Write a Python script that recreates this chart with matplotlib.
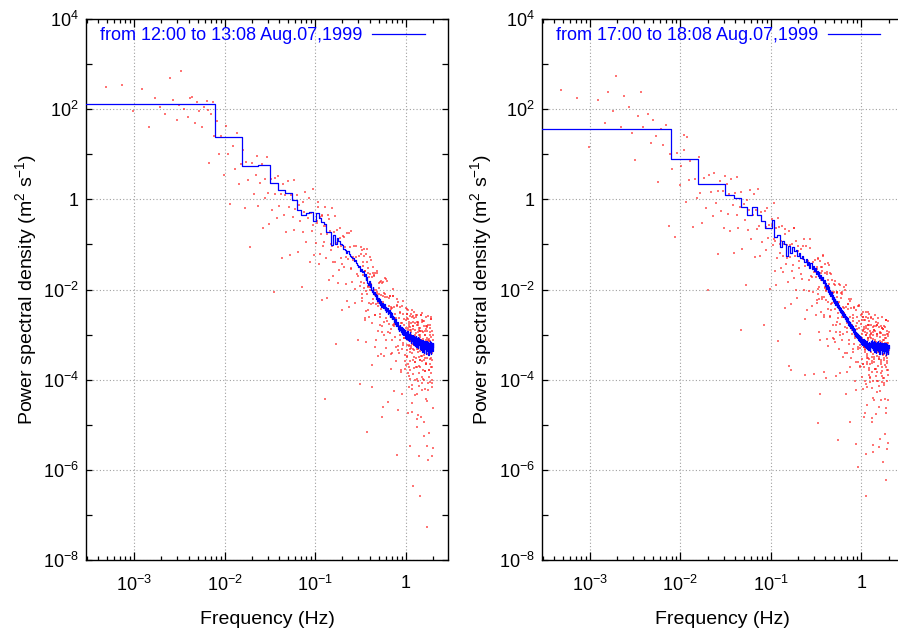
import numpy as np
import matplotlib
matplotlib.use("Agg")
import matplotlib.pyplot as plt
from matplotlib.ticker import FixedLocator, NullFormatter

plt.rcParams['font.family'] = 'Liberation Sans'
plt.rcParams['mathtext.fontset'] = 'custom'
plt.rcParams['mathtext.rm'] = 'Liberation Sans'
plt.rcParams['mathtext.it'] = 'Liberation Sans:italic'
plt.rcParams['mathtext.default'] = 'rm'

# ---- data -----------------------------------------------------------------
labels = ['from 12:00 to 13:08 Aug.07,1999', 'from 17:00 to 18:08 Aug.07,1999']

# blue line: averaged spectrum, one value (log10 m^2 s^-1) per 1/128 Hz bin
bin_width = 1 / 128.0
left_line_lp = [
    2.11, 1.38, 0.74, 0.76, 0.36, 0.21, 0.14, -0.01, -0.24, -0.35, -0.30, -0.27, -0.48, -0.31, -0.42, -0.50,
    -0.55, -0.72, -0.72, -1.02, -0.80, -1.00, -0.85,
    -0.92, -1.00, -1.02, -1.10, -1.12, -1.18, -1.15, -1.22,
    -1.25, -1.28, -1.30, -1.36, -1.34, -1.42, -1.45, -1.50, -1.48, -1.58,
    -1.55, -1.62, -1.58, -1.70, -1.65, -1.80, -1.72, -1.85, -1.90, -1.82,
    -1.95, -1.88, -2.00, -2.05, -1.95, -2.10, -2.05, -2.15, -2.10, -2.20,
    -2.12, -2.25, -2.18, -2.30, -2.22, -2.35, -2.28, -2.25, -2.38, -2.30,
    -2.42, -2.35, -2.40, -2.32, -2.45, -2.38, -2.50, -2.42, -2.48, -2.40,
    -2.55, -2.47, -2.52, -2.45, -2.60, -2.50, -2.56, -2.62, -2.53, -2.65,
    -2.58, -2.66, -2.60, -2.72, -2.62, -2.70, -2.76, -2.66, -2.80, -2.70,
    -2.75, -2.82, -2.72, -2.85, -2.78, -2.88, -2.80, -2.92, -2.84, -2.78,
    -2.90, -2.86, -2.95, -2.84, -2.98, -2.90, -2.85, -3.00, -2.92, -2.96,
    -2.88, -3.02, -2.94, -3.05, -2.90, -2.98, -3.08, -2.95, -3.00, -3.10,
    -2.96, -3.04, -2.92, -3.08, -3.00, -3.12, -2.98, -3.05, -3.15, -3.02,
    -3.06, -2.95, -3.10, -3.04, -3.18, -3.00, -3.08, -3.14, -3.02, -3.12,
    -3.05, -3.20, -3.08, -3.00, -3.16, -3.10, -3.04, -3.22, -3.12, -3.06,
    -3.14, -3.08, -3.25, -3.10, -3.04, -3.18, -3.12, -3.28, -3.15, -3.08,
    -3.20, -3.12, -3.06, -3.22, -3.16, -3.30, -3.12, -3.18, -3.08, -3.24,
    -3.15, -3.32, -3.18, -3.10, -3.26, -3.14, -3.20, -3.35, -3.16, -3.22,
    -3.12, -3.28, -3.18, -3.24, -3.14, -3.38, -3.20, -3.16, -3.26, -3.12,
    -3.22, -3.30, -3.15, -3.25, -3.40, -3.18, -3.24, -3.14, -3.28, -3.20,
    -3.32, -3.16, -3.22, -3.44, -3.20, -3.26, -3.15, -3.30, -3.22, -3.18,
    -3.28, -3.36, -3.20, -3.24, -3.16, -3.32, -3.25, -3.46, -3.22, -3.18,
    -3.26, -3.20, -3.34, -3.24, -3.15, -3.28, -3.38, -3.22, -3.18, -3.30,
    -3.24, -3.42, -3.20, -3.16, -3.28, -3.22, -3.34, -3.18, -3.26, -3.30,
    -3.20, -3.36, -3.24, -3.18, -3.28,
]
right_line_lp = [
    1.55, 0.90, 0.335, 0.33, 0.10, 0.03, -0.18, -0.35, -0.18, -0.35, -0.47, -0.63, -0.63, -0.46, -0.84, -0.80,
    -1.05, -0.92, -0.98, -1.25, -1.04, -1.20, -1.06, -1.15, -1.12, -1.26, -1.20, -1.30, -1.25, -1.32, -1.38,
    -1.32, -1.45, -1.38, -1.52, -1.42, -1.55, -1.48, -1.60, -1.52, -1.65,
    -1.58, -1.70, -1.62, -1.75, -1.68, -1.80, -1.72, -1.85, -1.78, -1.92,
    -1.85, -1.98, -1.90, -2.05, -1.95, -2.10, -2.02, -2.15, -2.06, -2.20,
    -2.12, -2.25, -2.16, -2.30, -2.22, -2.34, -2.26, -2.38, -2.30, -2.42,
    -2.35, -2.45, -2.38, -2.50, -2.40, -2.52, -2.45, -2.56, -2.48, -2.60,
    -2.52, -2.62, -2.55, -2.66, -2.58, -2.70, -2.60, -2.72, -2.64, -2.76,
    -2.66, -2.78, -2.70, -2.82, -2.72, -2.86, -2.76, -2.84, -2.78, -2.90,
    -2.80, -2.92, -2.84, -2.95, -2.86, -2.98, -2.88, -3.00, -2.92, -3.04,
    -2.94, -3.05, -2.96, -3.08, -2.98, -3.10, -3.00, -3.12, -3.02, -3.06,
    -3.14, -3.04, -3.10, -3.16, -3.06, -3.20, -3.08, -3.14, -3.22, -3.10,
    -3.18, -3.12, -3.24, -3.10, -3.20, -3.26, -3.14, -3.22, -3.12, -3.28,
    -3.16, -3.24, -3.18, -3.30, -3.14, -3.22, -3.26, -3.16, -3.32, -3.20,
    -3.24, -3.18, -3.34, -3.22, -3.16, -3.28, -3.20, -3.36, -3.24, -3.18,
    -3.22, -3.14, -3.28, -3.18, -3.24, -3.12, -3.30, -3.20, -3.16, -3.26,
    -3.20, -3.34, -3.18, -3.24, -3.14, -3.28, -3.22, -3.38, -3.20, -3.16,
    -3.26, -3.20, -3.32, -3.18, -3.24, -3.40, -3.22, -3.16, -3.28, -3.20,
    -3.34, -3.18, -3.24, -3.14, -3.30, -3.22, -3.36, -3.20, -3.26, -3.18,
    -3.28, -3.42, -3.20, -3.24, -3.16, -3.30, -3.22, -3.34, -3.18, -3.26,
    -3.20, -3.32, -3.24, -3.44, -3.22, -3.18, -3.28, -3.22, -3.36, -3.20,
    -3.26, -3.18, -3.30, -3.24, -3.40, -3.22, -3.28, -3.18, -3.32, -3.24,
    -3.20, -3.36, -3.26, -3.22, -3.30, -3.18, -3.46, -3.24, -3.28, -3.20,
    -3.32, -3.24, -3.20, -3.38, -3.26, -3.22, -3.30, -3.24, -3.42, -3.26,
    -3.22, -3.34, -3.28, -3.24, -3.30,
]

# red dots: raw spectrum estimates, log10 frequency (Hz) shared by both panels
dot_lf = [
    -2.09, -2.06, -2.04, -2.01, -1.99, -1.96, -1.94, -1.91, -1.89, -1.86, -1.84, -1.82, -1.80, -1.78, -1.76,
    -1.74, -1.72, -1.70, -1.68, -1.66, -1.64, -1.63, -1.61, -1.59, -1.58, -1.56, -1.55, -1.53, -1.52, -1.51,
    -1.49, -1.48, -1.46, -1.45, -1.44, -1.42, -1.41, -1.40, -1.38, -1.37, -1.36, -1.34, -1.33, -1.32, -1.30,
    -1.29, -1.28, -1.27, -1.25, -1.24, -1.23, -1.22, -1.20, -1.19, -1.18, -1.17, -1.15, -1.14, -1.13, -1.12,
    -1.11, -1.10, -1.08, -1.07, -1.06, -1.05, -1.04, -1.03, -1.02, -1.01,
    -0.99, -0.98, -0.97, -0.96, -0.95, -0.94, -0.93, -0.92, -0.91, -0.90, -0.89, -0.88, -0.87, -0.86, -0.85,
    -0.84, -0.83, -0.82, -0.81, -0.80, -0.79, -0.78, -0.77, -0.76, -0.75, -0.74, -0.73, -0.72, -0.71, -0.70,
    -0.69, -0.68, -0.67, -0.66, -0.65, -0.64, -0.63, -0.62, -0.61, -0.60, -0.59, -0.58, -0.57, -0.56, -0.55,
    -0.54, -0.53, -0.52, -0.51, -0.50,
    -0.495, -0.485, -0.475, -0.465, -0.455, -0.445, -0.435, -0.425, -0.415, -0.405, -0.395, -0.385, -0.375,
    -0.365, -0.355, -0.345, -0.335, -0.325, -0.315, -0.305, -0.295, -0.285, -0.275, -0.265, -0.255, -0.245,
    -0.235, -0.225, -0.215, -0.205, -0.195, -0.185, -0.175, -0.165, -0.155, -0.145, -0.135, -0.125, -0.115,
    -0.105, -0.095, -0.085, -0.075, -0.065, -0.055, -0.045, -0.035, -0.025, -0.015, -0.005,
    -0.49, -0.465, -0.44, -0.415, -0.39, -0.365, -0.34, -0.315, -0.29, -0.265, -0.24, -0.215, -0.19, -0.165,
    -0.14, -0.115, -0.09, -0.065, -0.04, -0.015,
    0.005, 0.015, 0.025, 0.035, 0.045, 0.055, 0.065, 0.075, 0.085, 0.095, 0.105, 0.115, 0.125, 0.135, 0.145,
    0.155, 0.165, 0.175, 0.185, 0.195, 0.205, 0.215, 0.225, 0.235, 0.245, 0.255, 0.265, 0.275, 0.285, 0.295,
    0.01, 0.02, 0.03, 0.04, 0.05, 0.06, 0.07, 0.08, 0.09, 0.10, 0.11, 0.12, 0.13, 0.14, 0.15,
    0.16, 0.17, 0.18, 0.19, 0.20, 0.21, 0.22, 0.23, 0.24, 0.25, 0.26, 0.27, 0.28, 0.29, 0.30,
    0.012, 0.027, 0.042, 0.057, 0.072, 0.087, 0.102, 0.117, 0.132, 0.147, 0.162, 0.177, 0.192, 0.207, 0.222,
    0.237, 0.252, 0.267, 0.282, 0.297,
    # second pass, denser part of the cloud
    -0.985, -0.965, -0.945, -0.925, -0.905, -0.885, -0.865, -0.845, -0.825, -0.805, -0.785, -0.765, -0.745,
    -0.725, -0.705, -0.685, -0.665, -0.645, -0.625, -0.605, -0.585, -0.565, -0.545, -0.525, -0.505,
    -0.498, -0.488, -0.478, -0.468, -0.458, -0.448, -0.438, -0.428, -0.418, -0.408, -0.398, -0.388, -0.378,
    -0.368, -0.358, -0.348, -0.338, -0.328, -0.318, -0.308, -0.298, -0.288, -0.278, -0.268, -0.258, -0.248,
    -0.238, -0.228, -0.218, -0.208, -0.198, -0.188, -0.178, -0.168, -0.158, -0.148, -0.138, -0.128, -0.118,
    -0.108, -0.098, -0.088, -0.078, -0.068, -0.058, -0.048, -0.038, -0.028, -0.018, -0.008,
    0.008, 0.018, 0.028, 0.038, 0.048, 0.058, 0.068, 0.078, 0.088, 0.098, 0.108, 0.118, 0.128, 0.138, 0.148,
    0.158, 0.168, 0.178, 0.188, 0.198, 0.208, 0.218, 0.228, 0.238, 0.248, 0.258, 0.268, 0.278, 0.288, 0.298,
    0.003, 0.013, 0.023, 0.033, 0.043, 0.053, 0.063, 0.073, 0.083, 0.093, 0.103, 0.113, 0.123, 0.133, 0.143,
    0.153, 0.163, 0.173, 0.183, 0.193, 0.203, 0.213, 0.223, 0.233, 0.243, 0.253, 0.263, 0.273, 0.283, 0.293,
    0.007, 0.017, 0.027, 0.037, 0.047, 0.057, 0.067, 0.077, 0.087, 0.097, 0.107, 0.117, 0.127, 0.137, 0.147,
    0.157, 0.167, 0.177, 0.187, 0.197, 0.207, 0.217, 0.227, 0.237, 0.247, 0.257, 0.267, 0.277, 0.287, 0.297,
    # third pass
    -0.492, -0.482, -0.472, -0.462, -0.452, -0.442, -0.432, -0.422, -0.412, -0.402, -0.392, -0.382, -0.372,
    -0.362, -0.352, -0.342, -0.332, -0.322, -0.312, -0.302, -0.292, -0.282, -0.272, -0.262, -0.252, -0.242,
    -0.232, -0.222, -0.212, -0.202, -0.192, -0.182, -0.172, -0.162, -0.152, -0.142, -0.132, -0.122, -0.112,
    -0.102, -0.092, -0.082, -0.072, -0.062, -0.052, -0.042, -0.032, -0.022, -0.012, -0.002,
    0.001, 0.011, 0.021, 0.031, 0.041, 0.051, 0.061, 0.071, 0.081, 0.091, 0.101, 0.111, 0.121, 0.131, 0.141,
    0.151, 0.161, 0.171, 0.181, 0.191, 0.201, 0.211, 0.221, 0.231, 0.241, 0.251, 0.261, 0.271, 0.281, 0.291,
    0.009, 0.019, 0.029, 0.039, 0.049, 0.059, 0.069, 0.079, 0.089, 0.099, 0.109, 0.119, 0.129, 0.139, 0.149,
    0.159, 0.169, 0.179, 0.189, 0.199, 0.209, 0.219, 0.229, 0.239, 0.249, 0.259, 0.269, 0.279, 0.289, 0.299,
]
left_dot_lp = [
    1.73, 1.00, 1.40, 0.53, 1.63, 1.00, -0.10, 1.18, 0.68, 1.47, 0.33, 0.79, 1.10, -0.19, 0.82,
    0.43, -1.06, 0.80, 0.12, 0.54, 0.96, -0.15, 0.37, 0.79, -0.63, 0.44, 0.03, 0.95, 0.13, -0.54,
    0.44, -0.23, -2.06, 0.48, 0.11, -0.42, 0.52, -0.15, 0.12, -1.30, 0.34, -0.34, 0.10, -0.72, 0.40,
    -0.17, -1.24, 0.09, -0.40, 0.43, -0.69, -0.21, 0.10, -1.16, -0.12, -0.48, -1.95, -0.06, -0.72, -0.28,
    0.16, -0.95, -0.42, 0.02, -1.39, -0.30, -0.71, 0.23, -0.58, -1.24,
    -0.97, -0.49, -0.16, -1.43, -0.40, -0.77, -2.24, -0.36, -1.03, -0.60, -0.18, -1.30, -0.78, -0.35, -1.78,
    -0.70, -1.13, -0.20, -1.03, -1.70, -0.72, -1.39, -3.21, -0.68, -1.05, -1.57, -0.64, -1.31, -1.03, -2.45,
    -0.82, -1.49, -1.06, -1.88, -0.75, -1.32, -2.39, -1.06, -1.53, -0.70, -1.83, -1.35, -1.03, -2.30, -1.28,
    -1.65, -3.13, -1.25, -1.93, -1.50,
    -1.06, -2.19, -1.67, -1.25, -2.68, -1.60, -2.03, -1.11, -1.94, -2.62, -1.65, -2.33, -4.16,
    -1.64, -2.02, -2.56, -1.64, -2.32, -2.05, -3.48, -1.86, -2.54, -2.12, -2.95, -1.83, -2.40,
    -3.48, -2.16, -2.64, -1.82, -2.94, -2.47, -2.15, -3.42, -2.40, -2.78, -4.26, -2.38, -3.06,
    -2.64, -2.21, -3.34, -2.82, -2.39, -3.82, -2.75, -3.18, -2.25, -3.08, -3.76,
    -1.83, -1.10, -2.47, -1.64, -2.01, -1.49, -3.27, -2.10, -1.83, -2.80, -2.07, -3.29, -2.36, -2.87,
    -1.99, -2.76, -4.68, -2.49, -3.31, -2.78,
    -2.68, -3.34, -2.90, -3.72, -2.58, -3.14, -4.20, -2.87, -3.33, -2.49, -3.61, -3.12, -2.78, -4.04, -3.00,
    -3.36, -4.82, -2.93, -3.59, -3.15, -2.70, -3.81, -3.27, -2.82, -4.23, -3.14, -3.55, -2.60, -3.41, -4.07,
    -3.48, -3.00, -2.66, -3.92, -2.89, -3.25, -4.71, -2.82, -3.49, -3.10, -2.61, -3.72, -3.18, -2.74, -4.15,
    -3.06, -3.47, -2.53, -3.34, -4.00, -3.01, -3.66, -5.47, -2.93, -3.29, -3.79, -2.85, -3.51, -3.21, -4.62,
    -3.24, -2.46, -3.78, -2.89, -3.21, -2.63, -4.35, -3.12, -2.78, -3.70, -2.91, -4.08, -3.09, -3.56, -2.62,
    -3.33, -5.19, -2.95, -3.71, -3.12,
    -0.53, -0.07, -1.21, -0.35, -0.94, -0.59, -2.19, -0.44, -0.99, -1.39, -0.38, -0.97, -1.86,
    -0.85, -1.44, -0.83, -1.27, -2.26, -0.75, -1.54, -1.29, -1.99, -1.04, -1.69, -4.09,
    -1.60, -1.13, -2.26, -1.39, -1.97, -1.59, -3.17, -1.40, -1.93, -2.31, -1.29, -1.87, -2.75,
    -1.73, -2.31, -1.70, -2.13, -3.11, -1.59, -2.37, -2.10, -2.78, -1.81, -2.44, -4.82, -2.14,
    -2.72, -1.75, -3.13, -2.16, -2.48, -2.76, -2.14, -3.76, -2.44, -3.12, -2.15, -2.77, -2.65,
    -3.58, -2.75, -2.28, -3.41, -2.53, -3.11, -2.74, -4.32, -2.54, -3.07, -3.45,
    -3.03, -2.54, -3.66, -2.77, -3.33, -2.95, -4.51, -2.72, -3.23, -3.60, -2.56, -3.12, -3.98, -2.94, -3.50,
    -2.86, -3.27, -4.23, -2.69, -3.45, -3.16, -3.81, -2.82, -3.43, -5.79, -3.09, -3.65, -2.66, -4.01, -3.02,
    -2.42, -2.99, -3.85, -2.81, -3.38, -2.74, -3.15, -4.12, -2.58, -3.34, -3.05, -3.71, -2.72, -3.33, -5.69,
    -3.00, -3.56, -2.57, -3.93, -2.94, -3.25, -3.51, -2.87, -4.47, -3.13, -3.79, -2.79, -3.40, -3.26, -4.16,
    -3.68, -2.54, -3.11, -4.17, -2.83, -3.30, -2.46, -3.57, -3.08, -2.75, -4.01, -2.97, -3.33, -4.79, -2.90,
    -3.56, -3.12, -2.68, -3.79, -3.25, -2.81, -4.21, -3.12, -3.53, -2.59, -3.39, -4.05, -3.06, -3.71, -5.52,
    -1.22, -2.10, -1.48, -1.86, -2.63, -1.21, -2.09, -1.52, -2.45, -1.72, -1.95, -1.34, -3.67,
    -2.20, -1.68, -2.56, -2.00, -1.63, -2.91, -2.29, -1.97, -2.60, -3.43, -1.86, -2.28, -3.01,
    -2.09, -1.77, -2.70, -2.47, -4.50, -2.18, -2.96, -2.38, -3.41, -2.14, -2.81, -2.54, -3.27,
    -2.34, -2.37, -3.25, -2.63, -3.00, -3.78, -2.36, -3.23, -2.66, -3.59, -2.86,
    -3.07, -2.44, -4.75, -3.26, -2.72, -3.59, -3.00, -2.61, -3.88, -3.24, -2.90, -3.51, -4.32, -2.73, -3.14,
    -3.85, -2.91, -2.57, -3.48, -3.24, -5.25, -2.91, -3.66, -3.07, -4.08, -2.78, -3.44, -3.15, -3.86, -2.91,
    -2.63, -3.50, -2.86, -3.22, -3.98, -2.55, -3.41, -2.82, -3.74, -3.00, -3.21, -2.57, -4.88, -3.39, -2.85,
    -3.71, -3.12, -2.73, -3.99, -3.35, -3.01, -3.62, -4.42, -2.83, -3.24, -3.94, -3.00, -2.66, -3.57, -3.32,
]
right_dot_lp = [
    0.68, -0.83, 1.03, 0.32, 0.73, 1.10, -0.05, 0.43, 0.84, -0.61, 0.46, 0.03, 0.95, 0.14, -0.52,
    0.47, -0.19, -2.00, 0.53, 0.16, -0.36, 0.58, -0.09, 0.19, -1.22, 0.41, -0.25, 0.18, -0.63, 0.51,
    0.34, -0.32, 0.11, -0.70, 0.44, -0.13, -1.19, 0.15, -0.34, 0.49, -0.63, -0.17, 0.16, -1.11, -0.10,
    -0.45, -1.91, -0.02, -0.68, -0.23, 0.21, -0.89, -0.34, 0.11, -1.28, -0.24, -0.66, 0.23, -0.59, -1.26,
    -0.28, -0.95, -2.78, -0.25, -0.61, -1.13, -0.19, -0.86, -0.57, -1.99,
    -0.58, -1.01, -0.09, -0.92, -1.60, -0.63, -1.31, -3.14, -0.62, -1.00, -1.52, -0.59, -1.26, -0.98, -2.40,
    -0.77, -1.44, -1.01, -1.83, -0.70, -1.27, -2.33, -1.00, -1.46, -0.63, -1.74, -1.26, -0.92, -2.19, -1.15,
    -1.52, -2.98, -1.10, -1.76, -1.33, -0.89, -2.01, -1.47, -1.04, -2.45, -1.37, -1.79, -0.87, -1.69, -2.36,
    -1.38, -2.05, -3.88, -1.35, -1.72,
    -2.23, -1.31, -1.98, -1.70, -3.12, -1.50, -2.17, -1.74, -2.57, -1.44, -2.02, -3.10, -1.78,
    -2.27, -1.45, -2.58, -2.11, -1.80, -3.08, -2.06, -2.44, -3.92, -2.05, -2.72, -2.30, -1.88,
    -3.01, -2.48, -2.06, -3.49, -2.41, -2.84, -1.91, -2.74, -3.41, -2.44, -3.11, -4.94, -2.41,
    -2.79, -3.31, -2.39, -3.07, -2.80, -4.23, -2.60, -3.28, -2.86, -3.69, -2.57,
    -1.54, -2.20, -1.51, -3.82, -2.03, -1.42, -2.45, -2.08, -3.16, -2.07, -2.94, -2.11, -2.53, -3.84,
    -2.20, -2.86, -2.63, -3.60, -2.37, -3.24,
    -2.54, -3.65, -3.12, -2.68, -4.09, -3.01, -3.42, -2.49, -3.30, -3.96, -2.97, -3.63, -5.44, -2.90, -3.26,
    -3.76, -2.82, -3.48, -3.19, -4.60, -2.95, -3.61, -3.16, -3.96, -2.82, -3.37, -4.43, -3.08, -3.53, -2.69,
    -3.14, -4.21, -2.87, -3.34, -2.50, -3.61, -3.13, -2.79, -4.06, -3.02, -3.38, -4.84, -2.94, -3.60, -3.16,
    -2.72, -3.83, -3.28, -2.84, -4.25, -3.15, -3.56, -2.61, -3.42, -4.07, -3.07, -3.73, -5.53, -2.99, -3.34,
    -2.60, -3.27, -2.94, -4.16, -2.78, -3.55, -3.07, -3.83, -2.65, -3.31, -4.77, -2.98, -3.54, -3.20, -4.06,
    -2.87, -3.42, -2.68, -3.78, -4.44,
    -0.43, -0.89, -1.90, -0.41, -1.19, -0.93, -1.62, -0.66, -1.30, -3.69, -1.02, -1.60, -0.63,
    -2.01, -1.04, -1.37, -1.65, -1.03, -2.66, -1.34, -2.03, -1.08, -1.72, -1.62, -2.56,
    -1.62, -2.30, -1.32, -1.94, -4.31, -1.64, -2.21, -1.23, -2.61, -1.63, -1.96, -2.24, -1.62,
    -3.26, -1.94, -2.62, -1.65, -2.29, -2.17, -3.10, -2.28, -1.81, -2.94, -2.06, -2.64, -2.27,
    -3.85, -2.07, -2.60, -2.98, -1.95, -2.53, -3.40, -2.38, -2.95, -2.33, -2.75, -3.73, -2.20,
    -2.98, -2.70, -3.38, -2.41, -3.04, -5.42, -2.74, -3.32, -2.35, -3.73, -2.76,
    -2.99, -3.66, -2.67, -3.28, -5.65, -2.96, -3.53, -2.54, -3.90, -2.92, -3.23, -3.49, -2.84, -4.45, -3.11,
    -3.77, -2.78, -3.38, -3.24, -4.15, -3.31, -2.81, -3.91, -3.02, -3.57, -3.18, -4.73, -2.93, -3.44, -3.79,
    -3.08, -2.60, -3.71, -2.83, -3.39, -3.00, -4.57, -2.78, -3.30, -3.66, -2.62, -3.18, -4.04, -3.00, -3.55,
    -2.91, -3.32, -4.28, -2.74, -3.49, -3.20, -3.85, -2.86, -3.46, -5.82, -3.12, -3.67, -2.68, -4.03, -3.04,
    -3.94, -2.90, -3.27, -4.73, -2.85, -3.51, -3.07, -2.64, -3.75, -3.22, -2.78, -4.19, -3.09, -3.50, -2.56,
    -3.37, -4.03, -3.03, -3.69, -5.50, -2.96, -3.31, -3.81, -2.87, -3.52, -3.23, -4.63, -2.98, -3.64, -3.19,
    -1.49, -2.11, -2.94, -1.36, -1.78, -2.50, -1.58, -1.25, -2.17, -1.95, -3.97, -1.66, -2.44,
    -1.87, -2.91, -1.64, -2.32, -2.06, -2.79, -1.87, -1.90, -2.78, -2.16, -2.53, -3.31, -1.89,
    -2.76, -2.19, -3.12, -2.39, -2.62, -2.00, -4.32, -2.85, -2.32, -3.20, -2.62, -2.25, -3.52,
    -2.90, -2.57, -3.20, -4.03, -2.46, -2.88, -3.61, -2.69, -2.37, -3.30, -3.07,
    -2.68, -3.55, -2.91, -3.27, -4.04, -2.60, -3.47, -2.88, -3.79, -3.06, -3.27, -2.63, -4.94, -3.44, -2.90,
    -3.76, -3.17, -2.78, -4.03, -3.39, -3.05, -3.65, -4.46, -2.86, -3.26, -3.97, -3.02, -2.68, -3.58, -3.33,
    -3.14, -2.51, -4.82, -3.33, -2.80, -3.66, -3.08, -2.69, -3.95, -3.32, -2.98, -3.59, -4.40, -2.80, -3.21,
    -3.92, -2.98, -2.64, -3.54, -3.30, -5.31, -2.96, -3.72, -3.12, -4.12, -2.83, -3.48, -3.19, -3.89, -2.94,
]

# extra dots: the lowest frequencies and the far-off low values, per panel
left_extra_lf = [-3.31, -3.14, -3.01, -2.91, -2.84, -2.77, -2.71, -2.66, -2.61, -2.57, -2.53, -2.50, -2.48,
                 -2.45, -2.41, -2.38, -2.36, -2.33, -2.31, -2.28, -2.25, -2.23, -2.20, -2.18, -2.17, -2.15,
                 -2.13, -2.12,
                 0.232, 0.05, 0.16, 0.08, -0.10, -0.43, -0.89, 0.29, 0.12, 0.20, -0.25]
left_extra_lp = [2.50, 2.54, 1.95, 2.44, 1.61, 2.24, 2.05, 1.90, 2.69, 2.20, 1.75, 2.10, 2.85,
                 2.00, 1.82, 2.24, 2.26, 1.70, 2.15, 1.95, 1.60, 2.05, 2.18, 1.98, 0.81, 1.90,
                 2.15, 1.40,
                 -7.26, -5.48, -6.59, -6.35, -5.67, -5.16, -4.43, -5.70, -5.05, -4.95, -4.60]
right_extra_lf = [-3.32, -3.14, -3.01, -2.91, -2.83, -2.80, -2.74, -2.71, -2.66, -2.62, -2.57, -2.53, -2.50,
                  -2.47, -2.44, -2.41, -2.36, -2.33, -2.30, -2.27, -2.25, -2.22, -2.19, -2.16, -2.13, -2.12,
                  -1.96, -1.93,
                  -1.33, -0.78, -0.48, 0.05, 0.27, 0.29, -0.04, 0.13, 0.26, -0.26, -0.62]
right_extra_lp = [2.43, 2.24, 1.17, 2.20, 1.70, 2.37, 1.95, 2.74, 1.60, 2.30, 2.05, 1.47, 0.87,
                  1.85, 2.38, 1.60, 1.90, 1.25, 1.75, 1.40, 0.39, 1.55, 1.20, 1.65, -0.60, 1.00,
                  1.43, 1.38,
                  -2.90, -3.78, -4.96, -6.59, -6.22, -5.40, -5.93, -5.60, -5.20, -5.33, -3.90]

xticks = [1e-3, 1e-2, 1e-1, 1]
xticklabels = ['10$^{-3}$', '10$^{-2}$', '10$^{-1}$', '1']
yticks = [1e-8, 1e-6, 1e-4, 1e-2, 1, 1e2, 1e4]
yticklabels = ['10$^{-8}$', '10$^{-6}$', '10$^{-4}$', '10$^{-2}$', '1', '10$^{2}$', '10$^{4}$']

# ---- figure ---------------------------------------------------------------
W, H = 898, 637
fig = plt.figure(figsize=(W / 100, H / 100), dpi=100)
ax_left = fig.add_axes([86 / W, 77 / H, 362 / W, 541 / H])
ax_right = fig.add_axes([541.7 / W, 77 / H, 362 / W, 541 / H])


def draw_panel(ax, line_lp, dot_lp, extra_lf, extra_lp, label):
    lf = np.concatenate([dot_lf, extra_lf])
    lp = np.concatenate([dot_lp, extra_lp])
    ax.plot(10 ** lf, 10 ** lp, linestyle='none', marker='s', markersize=1.7,
            markeredgewidth=0, color='#ff1a1a', alpha=0.6, zorder=2)

    vals = 10 ** np.array(line_lp)
    edges = np.arange(len(vals) + 1) * bin_width
    edges[0] = 1e-4  # first bin runs off the left edge of the axes
    ax.step(edges, np.append(vals, vals[-1]), where='post', color='#0000ff',
            lw=0.9, label=label, zorder=3)

    ax.set_xscale('log')
    ax.set_yscale('log')
    ax.set_xlim(2.93e-4, 2.93)
    ax.set_ylim(1e-8, 1e4)

    ax.xaxis.set_major_locator(FixedLocator(xticks))
    ax.set_xticklabels(xticklabels)
    minor_x = [m * 10.0 ** e for e in range(-4, 1) for m in range(2, 10)]
    ax.xaxis.set_minor_locator(FixedLocator(minor_x))
    ax.xaxis.set_minor_formatter(NullFormatter())

    ax.yaxis.set_major_locator(FixedLocator(yticks))
    ax.set_yticklabels(yticklabels)
    ax.yaxis.set_minor_locator(FixedLocator([1e-7, 1e-5, 1e-3, 1e-1, 1e1, 1e3]))
    ax.yaxis.set_minor_formatter(NullFormatter())

    ax.tick_params(which='both', direction='in', top=True, right=True, width=0.9,
                   labelsize=13, colors='black')
    ax.tick_params(axis='x', which='major', length=6, pad=10.5)
    ax.tick_params(axis='x', which='minor', length=3)
    ax.tick_params(axis='y', which='both', length=4, pad=5)

    ax.grid(True, which='major', linestyle=(0, (1, 2)), color='#a0a0a0', lw=0.8)
    ax.set_axisbelow(True)
    for s in ax.spines.values():
        s.set_linewidth(1.0)

    ax.set_xlabel('Frequency (Hz)', fontsize=14, labelpad=12)
    ax.set_ylabel('Power spectral density (m$^2$ s$^{-1}$)', fontsize=14, labelpad=3)
    ax.legend(loc='upper left', bbox_to_anchor=(14 / 362, 1 - 8 / 541), frameon=False,
              markerfirst=False, handlelength=2.9, handletextpad=0.55, borderpad=0,
              borderaxespad=0, fontsize=13, labelcolor='blue')


draw_panel(ax_left, left_line_lp, left_dot_lp, left_extra_lf, left_extra_lp, labels[0])
draw_panel(ax_right, right_line_lp, right_dot_lp, right_extra_lf, right_extra_lp, labels[1])

fig.savefig('out.png', dpi=100)
